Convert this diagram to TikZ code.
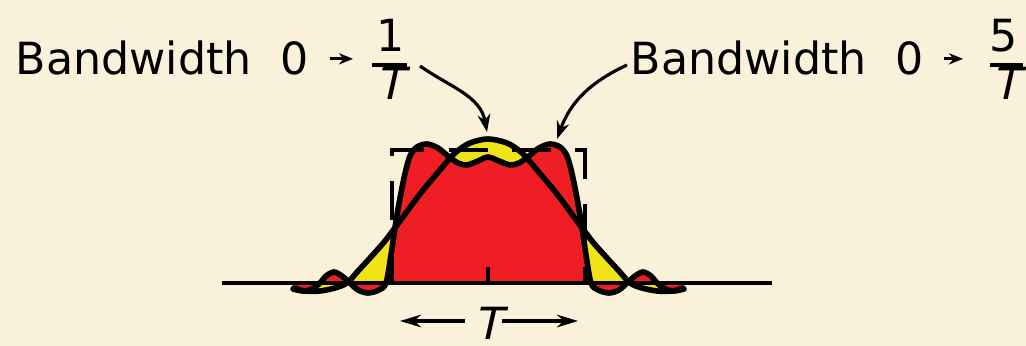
\documentclass[tikz,border=0pt]{standalone}
\usepackage{fontspec}
\setmainfont{DejaVu Sans}
\newfontfamily\slantfont[FakeSlant=0.22]{DejaVu Sans}
\usetikzlibrary{arrows.meta,calc,positioning}
\definecolor{paper}{RGB}{249,241,218}
\definecolor{pulsered}{RGB}{238,30,36}
\definecolor{pulseyellow}{RGB}{240,228,24}
\tikzset{every node/.append style={font=\fontsize{12.6}{15}\selectfont, inner sep=0pt}}

\begin{document}
\begin{tikzpicture}[x=0.01cm, y=-0.01cm, >={Stealth[length=5pt,width=3.6pt]}]
    \fill[paper] (0,0) rectangle (1026,346);
    \useasboundingbox (0,0) rectangle (1026,346);
    % area under the 1/T curve
    \fill[pulseyellow] plot[smooth] coordinates {(294,288) (305,291) (320,291) (335,288) (347,283) (358,271) (370,258) (385,241) (400,221) (420,194) (440,170) (455,153) (470,143) (488,139) (507,143) (522,153) (537,170) (557,194) (577,221) (592,241) (607,258) (619,271) (630,283) (642,288) (657,291) (672,291) (683,288)} -- (683,283) -- (294,283) -- cycle;
    % area under the 5/T curve
    \fill[pulsered] plot[smooth] coordinates {(293,289) (303,291) (312,289) (320,283) (326,276) (334,272) (342,276) (350,283) (358,290) (368,293) (379,290) (386,283) (391,255) (397,215) (404,178) (410,156) (417,147) (427,144) (438,148) (448,156) (458,163) (467,165) (478,161) (488,157) (499,161) (510,165) (519,163) (529,156) (539,148) (550,144) (560,147) (567,156) (573,178) (580,215) (586,255) (591,283) (598,290) (609,293) (619,290) (627,283) (635,276) (643,272) (651,276) (657,283) (665,289) (674,291) (684,289)} -- (684,283) -- (293,283) -- cycle;
    % ideal pulse of width T
    \draw[line width=0.9pt, dash pattern=on 11 off 7] (392,283) -- (392,150) -- (585,150) -- (585,283);
    \draw[line width=0.9pt] (488,283) -- (488,267);
    \draw[line width=0.9pt] (222,283) -- (772,283);
    % the two band-limited pulses
    \draw[line width=1.6pt, line cap=round, line join=round] plot[smooth] coordinates {(294,288) (305,291) (320,291) (335,288) (347,283) (358,271) (370,258) (385,241) (400,221) (420,194) (440,170) (455,153) (470,143) (488,139) (507,143) (522,153) (537,170) (557,194) (577,221) (592,241) (607,258) (619,271) (630,283) (642,288) (657,291) (672,291) (683,288)};
    \draw[line width=1.6pt, line cap=round, line join=round] plot[smooth] coordinates {(293,289) (303,291) (312,289) (320,283) (326,276) (334,272) (342,276) (350,283) (358,290) (368,293) (379,290) (386,283) (391,255) (397,215) (404,178) (410,156) (417,147) (427,144) (438,148) (448,156) (458,163) (467,165) (478,161) (488,157) (499,161) (510,165) (519,163) (529,156) (539,148) (550,144) (560,147) (567,156) (573,178) (580,215) (586,255) (591,283) (598,290) (609,293) (619,290) (627,283) (635,276) (643,272) (651,276) (657,283) (665,289) (674,291) (684,289)};
    % left label
    \node[anchor=base west] (bwA) at (15,75) {Bandwidth};
    \node[anchor=base west] (zeroA) at (280,75) {0};
    \node[anchor=base] (numA) at (391,52) {1};
    \node[anchor=base] (denA) at (390,100) {\slantfont T};
    \coordinate (barA) at (372,65);
    \draw[line width=0.9pt] (barA) -- +(35,0);
    \draw[line width=0.8pt, -{Stealth[length=4pt,width=3.2pt]}] ($(zeroA.east)+(20,0)$) -- ($(zeroA.east -| barA)+(-19,0)$);
    % right label
    \node[anchor=base west] (bwB) at (630,75) {Bandwidth};
    \node[anchor=base west] (zeroB) at (895,75) {0};
    \node[anchor=base] (numB) at (1004,52) {5};
    \node[anchor=base] (denB) at (1006,100) {\slantfont T};
    \coordinate (barB) at (990,65);
    \draw[line width=0.9pt] (barB) -- +(33,0);
    \draw[line width=0.8pt, -{Stealth[length=4pt,width=3.2pt]}] ($(zeroB.east)+(19,0)$) -- ($(zeroB.east -| barB)+(-27,0)$);
    % pointers to the curves
    \coordinate (peakA) at (487,132);
    \coordinate (humpB) at (557,139);
    \draw[line width=0.9pt, ->] ($(barA)+(48,1)$) to[out=-35,in=100] (peakA);
    \draw[line width=0.9pt, ->] ($(bwB.base west)+(-3,-10)$) to[out=205,in=70] (humpB);
    % width of the pulse
    \node[anchor=base] (Tlab) at (488,340) {\slantfont T};
    \coordinate (tleft) at (400,321);
    \coordinate (tright) at (578,321);
    \draw[line width=0.9pt, -{Stealth[length=6pt,width=3.6pt]}] ($(Tlab.west |- tleft)+(-9,0)$) -- (tleft);
    \draw[line width=0.9pt, -{Stealth[length=6pt,width=3.6pt]}] ($(Tlab.east |- tright)+(0,0)$) -- (tright);
\end{tikzpicture}
\end{document}
